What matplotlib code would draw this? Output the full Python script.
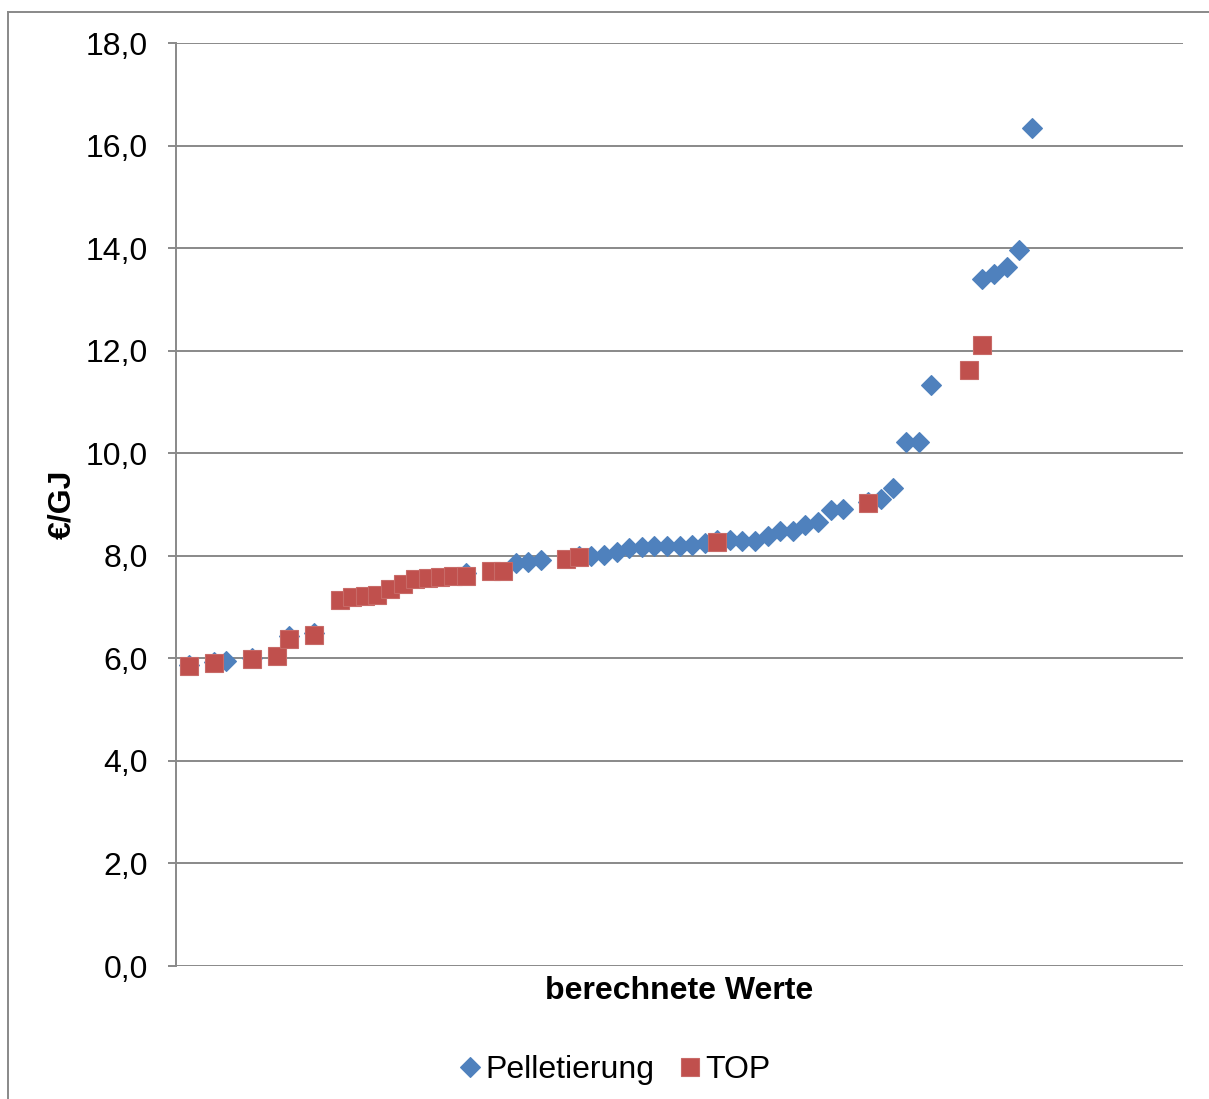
import matplotlib
matplotlib.use("Agg")
import matplotlib.pyplot as plt
from matplotlib.lines import Line2D
from matplotlib.ticker import FuncFormatter

plt.rcParams["font.family"] = ["Liberation Sans", "DejaVu Sans"]

# Rank positions and cost values (€/GJ) for each series
pellet_x = [1, 3, 4, 6, 9, 11, 23, 27, 28, 29, 32, 33, 34, 35, 36, 37, 38, 39, 40,
            41, 42, 43, 44, 45, 46, 47, 48, 49, 50, 51, 52, 53, 55, 56, 57, 58, 59,
            60, 64, 65, 66, 67, 68]
pellet_y = [5.87, 5.93, 5.95, 6.01, 6.43, 6.50, 7.67, 7.85, 7.88, 7.92, 8.00, 8.00,
            8.01, 8.08, 8.15, 8.18, 8.19, 8.19, 8.20, 8.21, 8.24, 8.30, 8.30, 8.29,
            8.29, 8.38, 8.49, 8.49, 8.60, 8.66, 8.89, 8.92, 9.05, 9.10, 9.32, 10.21,
            10.21, 11.34, 13.40, 13.49, 13.64, 13.96, 16.35]

top_x = [1, 3, 6, 8, 9, 11, 13, 14, 15, 16, 17, 18, 19, 20, 21, 22, 23, 25, 26,
         31, 32, 43, 55, 63, 64]
top_y = [5.85, 5.91, 5.99, 6.04, 6.37, 6.45, 7.14, 7.20, 7.21, 7.23, 7.35, 7.44,
         7.55, 7.56, 7.59, 7.60, 7.60, 7.70, 7.70, 7.93, 7.98, 8.27, 9.02, 11.62,
         12.11]

series_names = ["Pelletierung", "TOP"]
y_ticks = [0, 2, 4, 6, 8, 10, 12, 14, 16, 18]

BLUE = "#4F81BD"
RED = "#C0504D"
GRID = "#898989"
FS = 23

W, H = 1209, 1099
fig = plt.figure(figsize=(W / 100, H / 100), dpi=100)
ax = fig.add_axes([176 / W, 1 - 966 / H, (1183 - 176) / W, (966 - 43) / H])

ax.plot(pellet_x, pellet_y, linestyle="none", marker="D", markersize=10.2,
        color=BLUE, markeredgecolor=BLUE, markeredgewidth=0.8, zorder=3,
        label=series_names[0])
ax.plot(top_x, top_y, linestyle="none", marker="s", markersize=13.6,
        color=RED, markeredgecolor="#C86A67", markeredgewidth=0.8, zorder=4,
        label=series_names[1])

ax.set_xlim(0, 80)
ax.set_ylim(0, 18)
ax.set_yticks(y_ticks)
ax.yaxis.set_major_formatter(FuncFormatter(lambda v, p: f"{v:.1f}".replace(".", ",")))
ax.set_xticks([])

ax.grid(axis="y", color=GRID, linewidth=1.4)
ax.set_axisbelow(True)
for side in ("top", "right", "bottom"):
    ax.spines[side].set_visible(False)
ax.spines["left"].set_color(GRID)
ax.spines["left"].set_linewidth(1.4)
ax.tick_params(axis="y", direction="out", length=6, width=1.4, color=GRID,
               labelsize=FS, pad=14, labelcolor="black")

fig.text(679.5 / W, 1 - 991 / H, "berechnete Werte", ha="center", va="center",
         fontsize=FS, fontweight="bold")
fig.text(62 / W, 1 - 504.5 / H, "€/GJ", ha="center", va="center", rotation=90,
         fontsize=FS, fontweight="bold")

leg = fig.legend(loc="center", bbox_to_anchor=(614 / W, 1 - 1070 / H), ncol=2,
                 frameon=False, fontsize=FS, handlelength=0.75, handletextpad=0.1,
                 columnspacing=0.75, borderaxespad=0)

# Outer chart frame (left and top edges)
fig.add_artist(Line2D([8 / W, 8 / W], [1 - 12 / H, 0], transform=fig.transFigure,
                      color=GRID, linewidth=1.4))
fig.add_artist(Line2D([8 / W, 1], [1 - 12 / H, 1 - 12 / H], transform=fig.transFigure,
                      color=GRID, linewidth=1.4))

fig.savefig("out.png", dpi=100)
